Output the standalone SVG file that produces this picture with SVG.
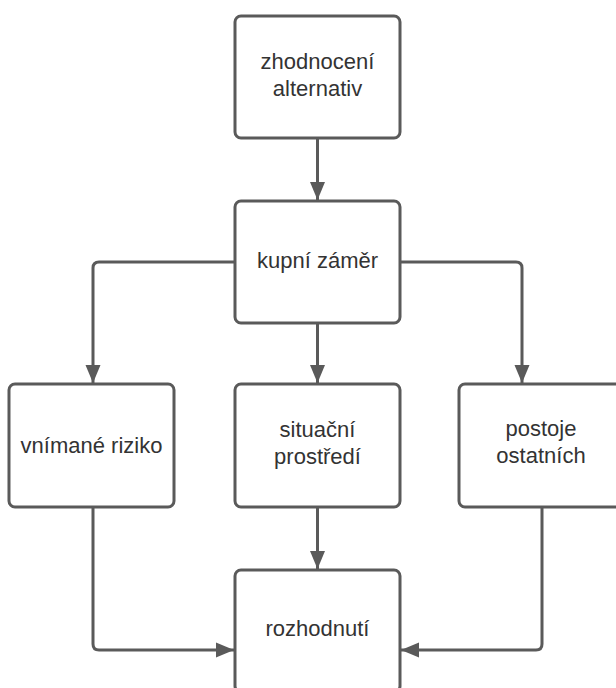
<svg xmlns="http://www.w3.org/2000/svg" width="616" height="688" viewBox="0 0 616 688">
  <style>
    .box { fill: #ffffff; stroke: #5a5a5a; stroke-width: 3; }
    .lbl { font-family: "Liberation Sans", Arial, sans-serif; font-size: 22px; fill: #333333; text-anchor: middle; }
    .conn { fill: none; stroke: #5a5a5a; stroke-width: 3; }
  </style>
  <defs>
    <marker id="arrow" markerUnits="userSpaceOnUse" markerWidth="18" markerHeight="16" refX="18" refY="8" orient="auto">
      <path d="M0,0.5 L18,8 L0,15.5 Z" fill="#5a5a5a"/>
    </marker>
  </defs>
  <rect width="616" height="688" fill="#ffffff"/>
  <g id="connectors">
    <path class="conn" d="M317.5,139 L317.5,200" marker-end="url(#arrow)"/>
    <path class="conn" d="M235,262 L99,262 Q93,262 93,268 L93,383" marker-end="url(#arrow)"/>
    <path class="conn" d="M400,262 L516,262 Q522,262 522,268 L522,383" marker-end="url(#arrow)"/>
    <path class="conn" d="M317.5,324 L317.5,383" marker-end="url(#arrow)"/>
    <path class="conn" d="M317.5,508 L317.5,569" marker-end="url(#arrow)"/>
    <path class="conn" d="M93,508 L93,644 Q93,650 99,650 L234,650" marker-end="url(#arrow)"/>
    <path class="conn" d="M542,508 L542,644 Q542,650 536,650 L401,650" marker-end="url(#arrow)"/>
  </g>
  <g id="node-zhodnoceni">
    <rect class="box" x="235" y="16" width="165" height="122" rx="6"/>
    <text class="lbl" x="317.5" y="69">zhodnocení</text>
    <text class="lbl" x="317.5" y="96">alternativ</text>
  </g>
  <g id="node-kupni">
    <rect class="box" x="235" y="201" width="165" height="122" rx="6"/>
    <text class="lbl" x="317.5" y="268">kupní záměr</text>
  </g>
  <g id="node-riziko">
    <rect class="box" x="9" y="384" width="165" height="123" rx="6"/>
    <text class="lbl" x="91.5" y="453">vnímané riziko</text>
  </g>
  <g id="node-situacni">
    <rect class="box" x="235" y="384" width="165" height="123" rx="6"/>
    <text class="lbl" x="317.5" y="437">situační</text>
    <text class="lbl" x="317.5" y="464">prostředí</text>
  </g>
  <g id="node-postoje">
    <rect class="box" x="459" y="384" width="165" height="123" rx="6"/>
    <text class="lbl" x="541" y="436">postoje</text>
    <text class="lbl" x="541" y="463">ostatních</text>
  </g>
  <g id="node-rozhodnuti">
    <rect class="box" x="235" y="570" width="165" height="122" rx="6"/>
    <text class="lbl" x="317.5" y="636">rozhodnutí</text>
  </g>
</svg>
